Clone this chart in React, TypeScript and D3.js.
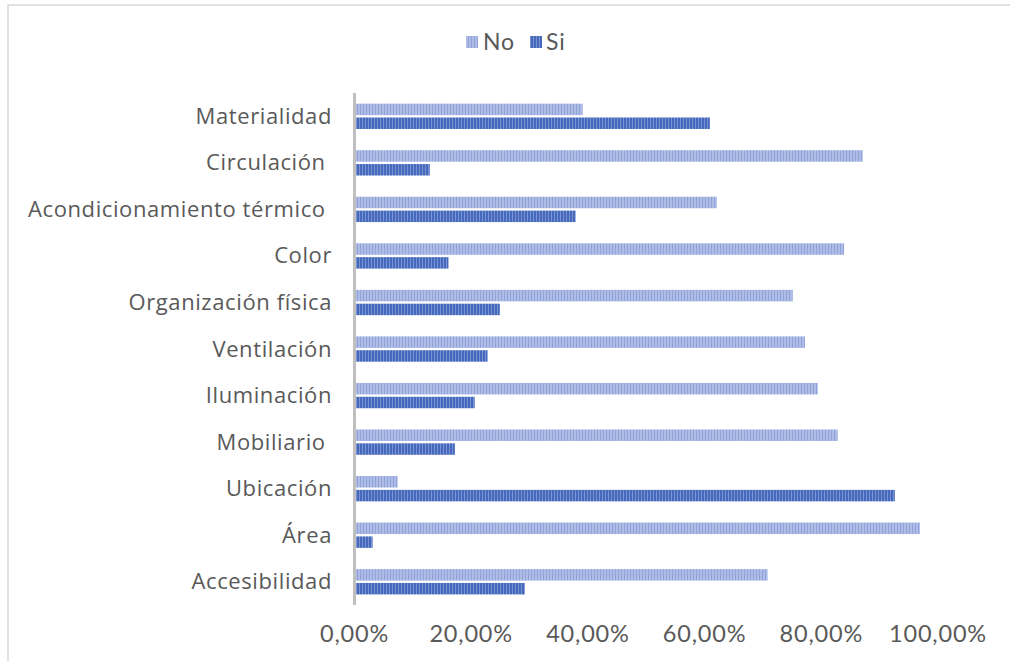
import React from "react";
import * as d3 from "d3";

const categories = [
  "Materialidad",
  "Circulación ",
  "Acondicionamiento térmico ",
  "Color",
  "Organización física",
  "Ventilación",
  "Iluminación",
  "Mobiliario ",
  "Ubicación",
  "Área",
  "Accesibilidad",
];
const noValues = [0.391, 0.871, 0.621, 0.839, 0.751, 0.772, 0.794, 0.828, 0.074, 0.969, 0.708];
const siValues = [0.609, 0.129, 0.379, 0.161, 0.249, 0.228, 0.206, 0.172, 0.926, 0.031, 0.292];
const series = ["No", "Si"];
const tickValues = [0, 0.2, 0.4, 0.6, 0.8, 1];

const fmt = (v: number) => (v * 100).toFixed(2).replace(".", ",") + "%";

export default function App() {
  const width = 1010;
  const height = 661;
  const x = d3.scaleLinear().domain([0, 1]).range([354.5, 938]);
  const y = d3.scaleBand<string>().domain(categories).range([93, 605]);
  const inner = d3
    .scaleBand<string>()
    .domain(series)
    .range([-12.6, 12.7])
    .paddingInner(0.17);
  const values: Record<string, number[]> = { No: noValues, Si: siValues };
  const fills: Record<string, string> = { No: "url(#patNo)", Si: "url(#patSi)" };

  return (
    <svg
      width={width}
      height={height}
      style={{ position: "absolute", left: 0, top: 0, background: "#fff" }}
    >
      <defs>
        <pattern id="patNo" width={3} height={4} patternUnits="userSpaceOnUse">
          <rect width={3} height={4} fill="#aebcE6" />
          <rect width={1} height={4} fill="#8fa2d9" />
        </pattern>
        <pattern id="patSi" width={3} height={4} patternUnits="userSpaceOnUse">
          <rect width={3} height={4} fill="#4569bd" />
          <rect x={2} width={1} height={4} fill="#7a92d0" />
        </pattern>
      </defs>
      <rect x={8} y={5} width={1010} height={670} fill="none" stroke="#d9d9d9" strokeWidth={1.5} />

      {/* legend */}
      <g fontFamily="Lato, 'Open Sans', sans-serif" fontSize={23} fill="#595959" letterSpacing={0.8}>
        <rect x={466} y={36} width={12} height={12} fill={fills.No} />
        <text x={483} y={50}>No</text>
        <rect x={530} y={36} width={12} height={12} fill={fills.Si} />
        <text x={546} y={50}>Si</text>
      </g>

      {/* bars */}
      {categories.map((c, i) => {
        const cy = (y(c) ?? 0) + y.bandwidth() / 2;
        return (
          <g key={c}>
            {series.map((s) => (
              <rect
                key={s}
                x={x(0)}
                y={cy + (inner(s) ?? 0)}
                width={x(values[s][i]) - x(0)}
                height={inner.bandwidth()}
                fill={fills[s]}
              />
            ))}
            <text
              x={332}
              y={cy + 7.5}
              textAnchor="end"
              fontFamily="'Open Sans', sans-serif"
              fontSize={22}
              letterSpacing={0.6}
              fill="#595959"
              style={{ whiteSpace: "pre" }}
            >
              {c}
            </text>
          </g>
        );
      })}

      {/* axis line */}
      <line x1={x(0)} x2={x(0)} y1={93} y2={605} stroke="#bfbfbf" strokeWidth={3} />

      {/* x tick labels */}
      {tickValues.map((t) => (
        <text
          key={t}
          x={x(t)}
          y={642}
          textAnchor="middle"
          fontFamily="Lato, 'Open Sans', sans-serif"
          fontSize={23.5}
          letterSpacing={0.8}
          fill="#595959"
        >
          {fmt(t)}
        </text>
      ))}
    </svg>
  );
}
